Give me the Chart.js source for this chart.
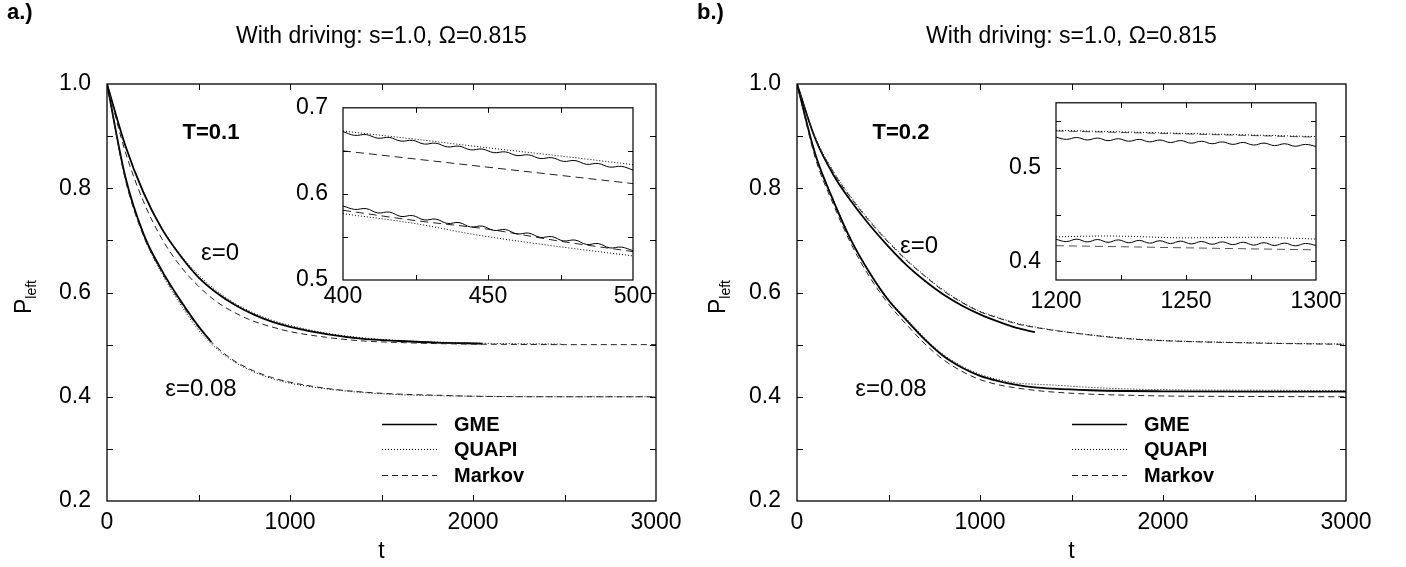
<!DOCTYPE html>
<html><head><meta charset="utf-8">
<script src="https://cdn.jsdelivr.net/npm/chart.js@4.4.1/dist/chart.umd.min.js"></script>
<style>
html,body{margin:0;padding:0;background:#fff;}
#wrap{position:relative;width:1406px;height:567px;overflow:hidden;background:#fff;}
canvas{position:absolute;}
</style></head><body>
<div id="wrap">
<canvas id="mainA" width="690" height="567" style="left:0;top:0"></canvas>
<canvas id="mainB" width="716" height="567" style="left:690px;top:0"></canvas>
<canvas id="insetA" width="410" height="236" style="left:270px;top:79px"></canvas>
<canvas id="insetB" width="410" height="241" style="left:960px;top:74px"></canvas>
</div>
<script>
// ---------- DATA ----------
const panelTitle = 'With driving: s=1.0, \u03A9=0.815';
const seriesNames = ['GME', 'QUAPI', 'Markov'];
// tick values (all = with unlabeled minor ticks, lab = labeled ones)
const mainXAll = [0,500,1000,1500,2000,2500,3000];
const mainXLab = [0,1000,2000,3000];
const mainYAll = [0.2,0.3,0.4,0.5,0.6,0.7,0.8,0.9,1.0];
const mainYLab = [0.2,0.4,0.6,0.8,1.0];
const insAXAll = [400,425,450,475,500];
const insAXLab = [400,450,500];
const insAYAll = [0.5,0.55,0.6,0.65,0.7];
const insAYLab = [0.5,0.6,0.7];
const insBXAll = [1200,1225,1250,1275,1300];
const insBXLab = [1200,1250,1300];
const insBYAll = [0.4,0.45,0.5,0.55];
const insBYLab = [0.4,0.5];

// Panel a (T=0.1), eps=0
const tA0_GME = [0,100,200,300,400,500,600,700,800,900,1000,1200,1400,1600,1800,2050];
const pA0_GME = [1.0,0.882,0.791,0.722,0.671,0.629,0.599,0.576,0.558,0.544,0.534,0.520,0.511,0.507,0.504,0.502];
const tA0_QUAPI = [0,100,200,300,400,500,600,700,800,900,1000,1200,1400,1600,1800,2000,2200,2480];
const pA0_QUAPI = [1.0,0.883,0.793,0.724,0.673,0.634,0.603,0.579,0.561,0.547,0.537,0.522,0.513,0.508,0.505,0.503,0.502,0.501];
const tA0_MARKOV = [0,100,200,300,400,500,600,700,800,900,1000,1200,1400,1600,1800,2000,2500,3000];
const pA0_MARKOV = [1.0,0.870,0.774,0.703,0.651,0.612,0.582,0.561,0.545,0.534,0.525,0.514,0.507,0.504,0.502,0.501,0.500,0.500];
// Panel a, eps=0.08
const tA8_GME = [0,100,200,300,400,500,570];
const pA8_GME = [1.0,0.822,0.712,0.642,0.5855,0.535,0.505];
const tA8_LONG = [0,100,200,300,400,500,600,700,800,900,1000,1200,1400,1600,1800,2000,2500,3000];
const pA8_QUAPI = [1.0,0.820,0.709,0.636,0.578,0.528,0.492,0.466,0.448,0.435,0.426,0.415,0.408,0.404,0.402,0.401,0.400,0.400];
const pA8_MARKOV = [1.0,0.817,0.708,0.639,0.582,0.533,0.495,0.468,0.450,0.437,0.428,0.416,0.409,0.405,0.403,0.401,0.400,0.400];

// Panel b (T=0.2), eps=0
const tB0_GME = [0,100,200,300,400,500,600,700,800,900,1000,1100,1200,1300];
const pB0_GME = [1.0,0.895,0.825,0.773,0.728,0.688,0.652,0.622,0.596,0.575,0.558,0.544,0.532,0.524];
const tB_LONG = [0,100,200,300,400,500,600,700,800,900,1000,1100,1200,1300,1400,1600,1800,2000,2500,3000];
const pB0_QUAPI = [1.0,0.898,0.832,0.781,0.737,0.698,0.663,0.632,0.605,0.582,0.564,0.552,0.541,0.534,0.528,0.519,0.512,0.508,0.5035,0.501];
const pB0_MARKOV = [1.0,0.896,0.830,0.779,0.735,0.696,0.661,0.631,0.603,0.581,0.563,0.551,0.540,0.533,0.5275,0.5185,0.5115,0.5075,0.503,0.5005];
// Panel b, eps=0.08
const pB8_GME = [1.0,0.865,0.775,0.697,0.636,0.585,0.546,0.509,0.478,0.456,0.440,0.430,0.4228,0.418,0.4155,0.4125,0.411,0.4105,0.410,0.410];
const pB8_QUAPI = [1.0,0.867,0.777,0.699,0.638,0.587,0.549,0.512,0.481,0.459,0.443,0.433,0.4263,0.4240,0.4225,0.4180,0.4150,0.4135,0.4125,0.412];
const pB8_MARKOV = [1.0,0.858,0.768,0.690,0.628,0.578,0.538,0.501,0.471,0.449,0.433,0.423,0.4168,0.4123,0.409,0.405,0.403,0.4015,0.4005,0.400];

// Inset a (t = 400..500)
const tInsA = [400,404,408,412,416,420,424,428,432,436,440,444,448,452,456,460,464,468,472,476,480,484,488,492,496,500];
const iA0_GME = [0.6723,0.6680,0.6689,0.6647,0.6656,0.6613,0.6622,0.6579,0.6589,0.6546,0.6555,0.6512,0.6521,0.6479,0.6488,0.6445,0.6454,0.6411,0.6421,0.6378,0.6387,0.6344,0.6353,0.6311,0.6320,0.6277];
const iA8_GME = [0.5860,0.5820,0.5829,0.5779,0.5789,0.5738,0.5748,0.5698,0.5707,0.5657,0.5667,0.5616,0.5626,0.5576,0.5586,0.5535,0.5545,0.5495,0.5504,0.5454,0.5464,0.5413,0.5423,0.5373,0.5382,0.5340];
const tInsA_s = [400,425,450,475,500];
const iA0_QUAPI = [0.673,0.6635,0.6535,0.644,0.634];
const iA0_MARKOV = [0.650,0.6405,0.631,0.6215,0.612];
const tInsA_q8 = [400,425,445,475,500];
const iA8_QUAPI = [0.577,0.5655,0.553,0.5385,0.528];
const iA8_MARKOV = [0.581,0.569,0.559,0.545,0.533];

// Inset b (t = 1200..1300)
const tInsB = [1200,1204,1208,1212,1216,1220,1224,1228,1232,1236,1240,1244,1248,1252,1256,1260,1264,1268,1272,1276,1280,1284,1288,1292,1296,1300];
const iB0_GME = [0.5331,0.5308,0.5328,0.5301,0.5322,0.5294,0.5315,0.5288,0.5308,0.5281,0.5301,0.5274,0.5295,0.5267,0.5288,0.5261,0.5281,0.5254,0.5275,0.5247,0.5268,0.5241,0.5261,0.5234,0.5254,0.5232];
const iB8_GME = [0.4236,0.4212,0.4238,0.4208,0.4234,0.4204,0.4230,0.4199,0.4225,0.4195,0.4221,0.4191,0.4217,0.4187,0.4213,0.4183,0.4209,0.4179,0.4205,0.4174,0.4200,0.4170,0.4196,0.4166,0.4192,0.4170];
const tInsB_s = [1200,1220,1250,1275,1300];
const iB0_QUAPI = [0.5405,0.5392,0.5372,0.5355,0.5338];
const iB0_MARKOV = [0.5398,0.5385,0.5366,0.5349,0.5332];
const iB8_QUAPI = [0.4263,0.4272,0.4252,0.4258,0.4239];
const iB8_MARKOV = [0.4168,0.4159,0.4145,0.4134,0.4123];

// ---------- HELPERS ----------
const FONT = "'Liberation Sans', Arial, Helvetica, sans-serif";
const TICK_PX = 23;
function pts(ts, vs){ return ts.map((t,i)=>({x:t, y:vs[i]})); }
const STY = {
  GME:    {borderColor:'#000', borderWidth:1.8, borderDash:[]},
  QUAPI:  {borderColor:'#000', borderWidth:1, borderDash:[1,2]},
  Markov: {borderColor:'#222', borderWidth:1, borderDash:[6,4]}
};
function ds(name, ts, vs, extra){
  return Object.assign({label:name, data:pts(ts,vs), pointRadius:0, fill:false,
    cubicInterpolationMode:'monotone'}, STY[name], extra||{});
}
function near(list, v){ return list.some(m=>Math.abs(m-v)<1e-6); }
function fixTicks(vals){ return function(s){ s.ticks = vals.map(v=>({value:v})); }; }

const boxTicks = {
  id:'boxTicks',
  afterDatasetsDraw(chart, args, o){
    const {ctx, chartArea:a} = chart; const x=chart.scales.x, y=chart.scales.y;
    ctx.save(); ctx.strokeStyle='#000'; ctx.lineWidth=1; ctx.setLineDash([]);
    const L=o.len;
    ctx.beginPath();
    x.ticks.forEach(t=>{
      const px=Math.round(x.getPixelForValue(t.value))+0.5;
      if(px<a.left+2||px>a.right-2) return;
      ctx.moveTo(px,a.bottom); ctx.lineTo(px,a.bottom-L);
      ctx.moveTo(px,a.top); ctx.lineTo(px,a.top+L); });
    y.ticks.forEach(t=>{
      const py=Math.round(y.getPixelForValue(t.value))+0.5;
      if(py<a.top+2||py>a.bottom-2) return;
      ctx.moveTo(a.left,py); ctx.lineTo(a.left+L,py);
      ctx.moveTo(a.right,py); ctx.lineTo(a.right-L,py); });
    ctx.stroke();
    ctx.lineWidth=o.bw;
    ctx.strokeRect(a.left, a.top, a.right-a.left, a.bottom-a.top);
    ctx.restore();
  }
};

const labels = {
  id:'labels',
  afterDraw(chart, args, o){
    if(!o.letter) return;
    const {ctx, chartArea:a} = chart; const L=a.left;
    ctx.save(); ctx.fillStyle='#000'; ctx.textBaseline='middle';
    ctx.font='bold 22px '+FONT; ctx.textAlign='left';
    ctx.fillText(o.letter, 7, 13);
    ctx.font='23px '+FONT; ctx.textAlign='center';
    ctx.fillText(panelTitle, (a.left+a.right)/2, 37);
    ctx.font='bold 22px '+FONT;
    ctx.fillText(o.temp, L+104, 133);
    ctx.font='24px '+FONT;
    ctx.fillText('\u03B5=0', L+o.e0x, o.e0y);
    ctx.fillText('\u03B5=0.08', L+94, 389);
    // P_left (rotated, with subscript)
    ctx.save(); ctx.translate(L+o.px, 297); ctx.rotate(-Math.PI/2);
    ctx.textAlign='left'; ctx.textBaseline='alphabetic';
    ctx.font='23px '+FONT; const wP=ctx.measureText('P').width;
    ctx.font='14px '+FONT; const wS=ctx.measureText('left').width;
    const x0=-(wP+wS)/2;
    ctx.font='23px '+FONT; ctx.fillText('P', x0, 8);
    ctx.font='14px '+FONT; ctx.fillText('left', x0+wP, 13);
    ctx.restore();
    // legend
    const rows=[424,449,475];
    seriesNames.forEach((n,i)=>{
      const s=STY[n];
      ctx.beginPath(); ctx.strokeStyle=s.borderColor; ctx.lineWidth=n==='GME'?1.3:1;
      ctx.setLineDash(s.borderDash);
      ctx.moveTo(L+275, rows[i]+0.5); ctx.lineTo(L+330, rows[i]+0.5); ctx.stroke();
      ctx.setLineDash([]);
      ctx.font='bold 20px '+FONT; ctx.textAlign='left'; ctx.fillStyle='#000';
      ctx.fillText(n, L+347, rows[i]+1);
    });
    ctx.restore();
  }
};
Chart.register(boxTicks, labels);

function mainOpts(letter, temp, e0x, e0y, padRight, px){
  return {
    responsive:false, animation:false, devicePixelRatio:1,
    layout:{padding:{left:0, right:padRight, top:84, bottom:0}},
    plugins:{legend:{display:false}, tooltip:{enabled:false},
      boxTicks:{len:6, bw:1.3},
      labels:{letter, temp, e0x, e0y, px}},
    scales:{
      x:{type:'linear', min:0, max:3000, afterFit(s){s.height=66;}, afterBuildTicks:fixTicks(mainXAll),
        grid:{display:false, drawTicks:false}, border:{display:false},
        ticks:{autoSkip:false, maxRotation:0, padding:8, color:'#000',
          font:{family:FONT, size:TICK_PX},
          callback:v=> near(mainXLab,v) ? String(v) : ''},
        title:{display:true, text:'t', color:'#000', font:{family:FONT, size:23}, padding:{top:0, bottom:2}}},
      y:{type:'linear', min:0.2, max:1.0, afterFit(s){s.width=107;}, afterBuildTicks:fixTicks(mainYAll),
        grid:{display:false, drawTicks:false}, border:{display:false},
        ticks:{autoSkip:false, padding:16, color:'#000',
          font:{family:FONT, size:TICK_PX},
          callback:v=> near(mainYLab,v) ? v.toFixed(1) : ''}}
    }
  };
}

function insetOpts(xmin,xmax,ymin,ymax,xAll,xLab,yAll,yLab,yw,padTop,padRight,xPad){
  return {
    responsive:false, animation:false, devicePixelRatio:1,
    layout:{padding:{left:0, right:padRight, top:padTop, bottom:0}},
    plugins:{legend:{display:false}, tooltip:{enabled:false},
      boxTicks:{len:5, bw:1.2}, labels:{}},
    scales:{
      x:{type:'linear', min:xmin, max:xmax, afterFit(s){s.height=35;}, afterBuildTicks:fixTicks(xAll),
        grid:{display:false, drawTicks:false}, border:{display:false},
        ticks:{autoSkip:false, maxRotation:0, padding:xPad, color:'#000',
          font:{family:FONT, size:TICK_PX},
          callback:v=> near(xLab,v) ? String(v) : ''}},
      y:{type:'linear', min:ymin, max:ymax, afterFit(s){s.width=yw;}, afterBuildTicks:fixTicks(yAll),
        grid:{display:false, drawTicks:false}, border:{display:false},
        ticks:{autoSkip:false, padding:15, color:'#000',
          font:{family:FONT, size:TICK_PX},
          callback:v=> near(yLab,v) ? v.toFixed(1) : ''}}
    }
  };
}

new Chart(document.getElementById('mainA'), {
  type:'line',
  data:{datasets:[
    ds('Markov', tA0_MARKOV, pA0_MARKOV),
    ds('QUAPI', tA0_QUAPI, pA0_QUAPI),
    ds('GME', tA0_GME, pA0_GME),
    ds('Markov', tA8_LONG, pA8_MARKOV),
    ds('QUAPI', tA8_LONG, pA8_QUAPI),
    ds('GME', tA8_GME, pA8_GME)
  ]},
  options: mainOpts('a.)', 'T=0.1', 113, 253, 34, -84)
});

new Chart(document.getElementById('mainB'), {
  type:'line',
  data:{datasets:[
    ds('Markov', tB_LONG, pB0_MARKOV),
    ds('QUAPI', tB_LONG, pB0_QUAPI),
    ds('GME', tB0_GME, pB0_GME),
    ds('Markov', tB_LONG, pB8_MARKOV),
    ds('QUAPI', tB_LONG, pB8_QUAPI),
    ds('GME', tB_LONG, pB8_GME)
  ]},
  options: mainOpts('b.)', 'T=0.2', 122, 246, 60, -80)
});

const insW = {borderWidth:1, tension:0.4, cubicInterpolationMode:'default'};
new Chart(document.getElementById('insetA'), {
  type:'line',
  data:{datasets:[
    ds('GME', tInsA, iA0_GME, insW),
    ds('QUAPI', tInsA_s, iA0_QUAPI),
    ds('Markov', tInsA_s, iA0_MARKOV, {borderDash:[8,5]}),
    ds('GME', tInsA, iA8_GME, insW),
    ds('QUAPI', tInsA_q8, iA8_QUAPI),
    ds('Markov', tInsA_s, iA8_MARKOV, {borderDash:[8,5]})
  ]},
  options: insetOpts(400,500,0.5,0.7,insAXAll,insAXLab,insAYAll,insAYLab,73,17,47,3)
});

new Chart(document.getElementById('insetB'), {
  type:'line',
  data:{datasets:[
    ds('GME', tInsB, iB0_GME, insW),
    ds('QUAPI', tInsB_s, iB0_QUAPI),
    ds('Markov', tInsB_s, iB0_MARKOV, {borderDash:[8,5], borderColor:'#555'}),
    ds('GME', tInsB, iB8_GME, insW),
    ds('QUAPI', tInsB_s, iB8_QUAPI),
    ds('Markov', tInsB_s, iB8_MARKOV, {borderDash:[8,5], borderColor:'#555'})
  ]},
  options: insetOpts(1200,1300,0.38,0.57,insBXAll,insBXLab,insBYAll,insBYLab,96,18,54,8)
});
</script>
</body></html>
